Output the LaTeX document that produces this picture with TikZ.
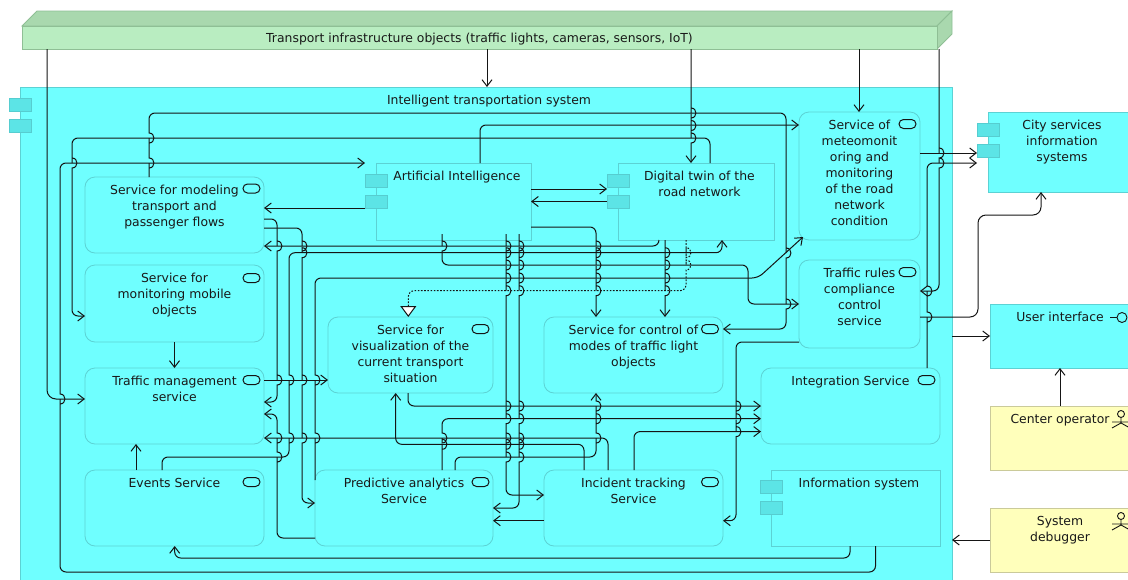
\documentclass[tikz,border=0pt]{standalone}
\usepackage{fontspec}
\setmainfont{DejaVu Sans}
\usetikzlibrary{arrows.meta}
\definecolor{sysfill}{HTML}{6FFFFF}
\definecolor{edgecy}{HTML}{5CD2D4}
\definecolor{tabfill}{HTML}{5CE4E6}
\definecolor{tabedge}{HTML}{56CDD0}
\definecolor{grfront}{HTML}{B9EDC1}
\definecolor{grtop}{HTML}{A9D8AE}
\definecolor{gredge}{HTML}{8FBF95}
\definecolor{yel}{HTML}{FFFFBB}
\definecolor{yeledge}{HTML}{CACA9A}
\definecolor{ink}{HTML}{151515}
% box content: width, height, left skip, text
\newcommand\bt[4]{\parbox[c][#2pt][t]{#1pt}{\centering\leftskip=#3pt plus 1fil\relax\rule{0pt}{17.5pt}#4}}
% jump over a horizontal line: going down / going up
\newcommand\hopd[2]{-- (#1,#2-6) [sharp corners] -- (#1,#2-5) .. controls (#1+6.6,#2-5) and (#1+6.6,#2+5) .. (#1,#2+5) [rounded corners=6pt]}
\newcommand\hopu[2]{-- (#1,#2+6) [sharp corners] -- (#1,#2+5) .. controls (#1+6.6,#2+5) and (#1+6.6,#2-5) .. (#1,#2-5) [rounded corners=6pt]}
\tikzset{
  base/.style={inner sep=0pt,outer sep=0pt,line width=.8pt,font=\fontsize{12.4}{16}\selectfont,text=black!90},
  svc/.style={base,draw=edgecy,fill=sysfill,rounded corners=10pt},
  comp/.style={base,draw=edgecy,fill=sysfill},
  actorbox/.style={base,draw=yeledge,fill=yel},
  tabbox/.style={draw=tabedge,fill=tabfill,line width=.8pt,minimum width=22pt,minimum height=13pt,inner sep=0pt,outer sep=0pt},
  ico/.style={draw=ink,line width=1pt,rounded corners=4.5pt,minimum width=17pt,minimum height=9pt,inner sep=0pt,outer sep=0pt},
  cn/.style={draw=ink,line width=1pt,rounded corners=6pt,-{Straight Barb[length=6.5pt,width=10pt]}},
  dot/.style={draw=ink,line width=1pt,rounded corners=6pt,dash pattern=on 1.6pt off 1.6pt,-{Triangle[open,fill=white,length=11pt,width=16pt]}},
  stick/.style={draw=ink,line width=.9pt}
}
\begin{document}
\begin{tikzpicture}[x=1pt,y=-1pt]
\useasboundingbox (0,0) rectangle (1128,579);
% green block
\fill[grtop,draw=gredge,line width=.8pt] (22,26) -- (37,11) -- (952,11) -- (937,26) -- cycle;
\fill[grtop,draw=gredge,line width=.8pt] (937,26) -- (952,11) -- (952,34) -- (937,49) -- cycle;
\node[base,draw=gredge,fill=grfront,minimum width=915pt,minimum height=23pt] (gr) at (479.5,37.5) {\raisebox{-4.5pt}[0pt][0pt]{Transport infrastructure objects (traffic lights, cameras, sensors, IoT)}};
% system
\node[comp,anchor=north west] (sys) at (20,87) {\bt{932}{493}{6}{Intelligent transportation system}};
\node[tabbox] (sysT1) at (20,104.5) {};
\node[tabbox] (sysT2) at (20,125.5) {};
% services
\node[svc] (mod) at (174.5,215) {\bt{179}{76}{0}{Service for modeling\\transport and\\passenger flows}};
\node[svc] (mon) at (174.5,303.5) {\bt{179}{77}{0}{Service for\\monitoring mobile\\objects}};
\node[svc] (tm) at (174.5,406) {\bt{179}{76}{0}{Traffic management\\service}};
\node[svc] (ev) at (174.5,508) {\bt{179}{76}{0}{Events Service}};
\node[svc] (pa) at (404,508) {\bt{178}{76}{0}{Predictive analytics\\Service}};
\node[svc] (vis) at (410.5,355) {\bt{165}{76}{0}{Service for\\visualization of the\\current transport\\situation}};
\node[svc] (ctl) at (633.5,355) {\bt{179}{76}{0}{Service for control of\\modes of traffic light\\objects}};
\node[svc] (inc) at (633.5,508) {\bt{179}{76}{0}{Incident tracking\\Service}};
\node[svc] (met) at (859.5,176) {\bt{121}{128}{0}{Service of\\meteomonit\\oring and\\monitoring\\of the road\\network\\condition}};
\node[svc] (tr) at (859.5,304) {\bt{121}{88}{0}{Traffic rules\\compliance\\control\\service}};
\node[svc] (int) at (850.5,406) {\bt{179}{76}{0}{Integration Service}};
% components
\node[comp] (ai) at (453.5,201.5) {\bt{155}{77}{7}{Artificial Intelligence}};
\node[tabbox] (aiT1) at (376,180.5) {};
\node[tabbox] (aiT2) at (376,201.5) {};
\node[comp] (dt) at (696,201.5) {\bt{156}{77}{7}{Digital twin of the\\road network}};
\node[tabbox] (dtT1) at (618,180.5) {};
\node[tabbox] (dtT2) at (618,201.5) {};
\node[comp] (is) at (855.5,508) {\bt{169}{76}{7}{Information system}};
\node[tabbox] (isT1) at (771,487) {};
\node[tabbox] (isT2) at (771,507.5) {};
\node[comp] (city) at (1059,152) {\bt{142}{80}{6}{City services\\information\\systems}};
\node[tabbox] (cityT1) at (988,129.5) {};
\node[tabbox] (cityT2) at (988,150.5) {};
\node[comp] (ui) at (1060,336) {\bt{140}{64}{0}{User interface}};
\node[actorbox] (op) at (1060,438) {\bt{140}{64}{0}{Center operator}};
\node[actorbox] (dbg) at (1060,540) {\bt{140}{64}{0}{System\\debugger}};
% service icons
\node[ico] (modI) at (251.5,188.5) {};
\node[ico] (monI) at (251.5,278) {};
\node[ico] (tmI) at (251.5,380) {};
\node[ico] (evI) at (251.5,482) {};
\node[ico] (paI) at (480.5,482) {};
\node[ico] (visI) at (480.5,329) {};
\node[ico] (ctlI) at (710,329) {};
\node[ico] (incI) at (710,482) {};
\node[ico] (metI) at (907.5,124) {};
\node[ico] (trI) at (907.5,272) {};
\node[ico] (intI) at (926.5,380) {};
% lollipop and actors
\draw[stick] (1110,317.5) -- (1117,317.5);
\draw[stick] (1122,317.5) circle (5);
\foreach \ay in {414,516}{
  \draw[stick] (1121,\ay) circle (3.5);
  \draw[stick] (1121,\ay+3.5) -- (1121,\ay+9) (1112,\ay+8) -- (1130,\ay+8) (1112,\ay+14) -- (1121,\ay+9) -- (1130,\ay+14);
}
\coordinate (metd) at (803,237);
% connectors from the green block
\draw[cn] (gr.south-|487,0) -- (sys.north-|487,0);
\draw[cn] (gr.south-|859,0) -- (met.north-|859,0);
\draw[cn] (gr.south-|691,0) \hopd{691}{113} \hopd{691}{125.5} \hopd{691}{138} -- (dt.north-|691,0);
\draw[cn,rounded corners=9pt] (gr.south-|47,0) -- (47,399) -- (tm.west|-0,399);
\draw[cn] (gr.south-|939,0) \hopd{939}{153} \hopd{939}{163} -- (939,291) -- (tr.east|-0,291);
% long routes
\draw[cn] (is.south-|875.5,0) -- (875.5,572) -- (60,572) \hopu{60}{399} -- (60,163) -- (aiT1.west|-0,163);
\draw[cn] (is.south-|850,0) -- (850,558) -- (174.7,558) -- (ev.south-|174.7,0);
\draw[cn] (dt.north-|710,0) -- (710,138) -- (72,138) \hopd{72}{163} -- (72,316) -- (mon.west|-0,316);
\draw[cn] (mod.north-|149,0) \hopu{149}{163} \hopu{149}{138} -- (149,113) -- (786,113) \hopd{786}{253} \hopd{786}{304} -- (786,329) -- (ctl.east|-0,329);
\draw[cn] (ai.north-|480,0) -- (480,125) -- (met.west|-0,125);
% right side
\draw[cn] (met.east|-0,153) -- (cityT2.west|-0,153);
\draw[cn] (int.north-|927,0) \hopu{927}{317} \hopu{927}{291} -- (927,163) -- (cityT2.west|-0,163);
\draw[cn,rounded corners=8pt] (tr.east|-0,317) -- (978,317) -- (978,215) -- (1041,215) -- (city.south-|1041,0);
\draw[cn] (sys.east|-0,336) -- (ui.west|-0,336);
\draw[cn] (op.north) -- (ui.south);
\draw[cn] (dbg.west) -- (sys.east|-0,540);
% AI and twin
\draw[cn] (aiT2.west|-0,208) -- (mod.east|-0,208);
\draw[cn] (ai.east|-0,189) -- (dtT1.west|-0,189);
\draw[cn] (dtT2.west) -- (ai.east|-0,201.5);
% left column
\draw[cn] (mon.south) -- (tm.north);
\draw[cn] (ev.north-|136,0) -- (tm.south-|136,0);
\draw[cn] (mod.east|-0,219) -- (277,219) \hopd{277}{246} \hopd{277}{380} -- (277,402) -- (tm.east|-0,402);
\draw[cn] (mod.east|-0,228) -- (302,228) \hopd{302}{246} \hopd{302}{252.7} \hopd{302}{380} \hopd{302}{438} -- (302,503) -- (pa.west|-0,503);
\draw[cn] (dt.south-|659,0) -- (659,246) -- (mod.east|-0,246);
\draw[cn] (ev.north-|162,0) -- (162,457) -- (289,457) \hopu{289}{438} \hopu{289}{380} -- (289,252.7) -- (722,252.7) -- (dt.south-|722,0);
\draw[cn] (pa.west|-0,538) -- (277,538) \hopu{277}{457} \hopu{277}{438} -- (277,414) -- (tm.east|-0,414);
\draw[cn] (pa.west|-0,480) \hopu{315}{438} \hopu{315}{380} -- (315,278) -- (758,278) -- (metd);
\draw[cn] (tm.east|-0,380) -- (vis.west|-0,380);
% middle band
\draw[cn] (inc.north-|608,0) -- (608,438) -- (tm.east|-0,438);
\draw[cn] (inc.north-|584,0) -- (584,444.3) -- (395.7,444.3) -- (vis.south-|395.7,0);
\draw[cn] (vis.south-|408,0) -- (408,406) -- (int.west|-0,406);
\draw[cn] (pa.north-|442,0) \hopu{442}{444.3} \hopu{442}{438} -- (442,418.7) -- (int.west|-0,418.7);
\draw[cn] (inc.north-|634,0) -- (634,431.6) -- (int.west|-0,431.6);
\draw[cn] (pa.north-|455,0) -- (455,457) -- (596,457) \hopu{596}{438} \hopu{596}{418.7} \hopu{596}{406} -- (ctl.south-|596,0);
\draw[cn] (ai.south-|506,0) \hopd{506}{246} \hopd{506}{252.7} \hopd{506}{265} \hopd{506}{278} \hopd{506}{290.7} \hopd{506}{406} \hopd{506}{418.7} \hopd{506}{438} \hopd{506}{444.3} \hopd{506}{457} -- (506,495) -- (inc.west|-0,495);
\draw[cn] (ai.south-|519,0) \hopd{519}{246} \hopd{519}{252.7} \hopd{519}{265} \hopd{519}{278} \hopd{519}{290.7} \hopd{519}{406} \hopd{519}{418.7} \hopd{519}{438} \hopd{519}{444.3} \hopd{519}{457} -- (519,508) -- (pa.east|-0,508);
\draw[cn] (ai.east|-0,227) -- (596,227) \hopd{596}{246} \hopd{596}{252.7} \hopd{596}{265} \hopd{596}{278} \hopd{596}{290.7} -- (ctl.north-|596,0);
\draw[cn] (dt.south-|665,0) \hopd{665}{252.7} \hopd{665}{265} \hopd{665}{278} \hopd{665}{290.7} -- (ctl.north-|665,0);
\draw[dot] (dt.south-|686,0) \hopd{686}{252.7} \hopd{686}{265} -- (686,290.7) -- (408.3,290.7) -- (vis.north-|408.3,0);
\draw[cn] (ai.south-|442,0) \hopd{442}{246} -- (442,265) -- (748,265) -- (748,304) -- (tr.west|-0,304);
\draw[cn] (tr.west|-0,342) -- (736,342) \hopd{736}{406} \hopd{736}{418.7} \hopd{736}{431.6} -- (736,520.7) -- (inc.east|-0,520.7);
\draw[cn] (inc.west|-0,520.7) -- (pa.east|-0,520.7);
\end{tikzpicture}
\end{document}
